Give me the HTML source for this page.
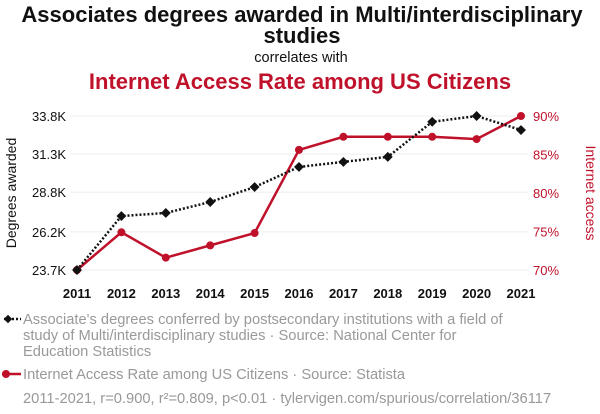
<!DOCTYPE html>
<html><head><meta charset="utf-8"><style>
body{margin:0;background:#fff;font-family:"Liberation Sans",sans-serif}
svg{display:block}
</style></head><body>
<svg id="chart" width="600" height="414" xmlns="http://www.w3.org/2000/svg" font-family="Liberation Sans, sans-serif">
<text x="302" y="22" text-anchor="middle" font-size="22" font-weight="bold" fill="#111">Associates degrees awarded in Multi/interdisciplinary</text>
<text x="302" y="43" text-anchor="middle" font-size="22" font-weight="bold" fill="#111">studies</text>
<text x="301" y="62" text-anchor="middle" font-size="14.5" fill="#111">correlates with</text>
<text x="300" y="89" text-anchor="middle" font-size="22" font-weight="bold" fill="#c0112b">Internet Access Rate among US Citizens</text>
<g id="grid"></g>
<g id="axes"></g>
<g id="series"></g>
<text transform="translate(16,193) rotate(-90)" text-anchor="middle" font-size="14" fill="#111">Degrees awarded</text>
<text transform="translate(586,193) rotate(90)" text-anchor="middle" font-size="14" fill="#c0112b">Internet access</text>
<g>
<line x1="4" y1="319" x2="21" y2="319" stroke="#111" stroke-width="2.5" stroke-dasharray="2,2"/>
<rect x="5" y="316" width="6" height="6" fill="#111" transform="rotate(45 8 319)"/>
<text font-size="14.7" fill="#999"><tspan x="23" y="324">Associate's degrees conferred by postsecondary institutions with a field of</tspan><tspan x="23" y="340">study of Multi/interdisciplinary studies · Source: National Center for</tspan><tspan x="23" y="356">Education Statistics</tspan></text>
</g>
<g>
<line x1="2" y1="374" x2="21" y2="374" stroke="#c0112b" stroke-width="2.5"/>
<circle cx="6" cy="374" r="4" fill="#c0112b"/>
<text x="23" y="379" font-size="14.7" fill="#999">Internet Access Rate among US Citizens · Source: Statista</text>
</g>
<text x="23" y="403" font-size="14.7" fill="#999">2011-2021, r=0.900, r²=0.809, p&lt;0.01 · tylervigen.com/spurious/correlation/36117</text>
</svg>
<script>
const years=[2011,2012,2013,2014,2015,2016,2017,2018,2019,2020,2021];
const degrees=[23.7,27.24,27.44,28.16,29.14,30.46,30.79,31.12,33.42,33.8,32.88];
const internet=[70,74.9,71.6,73.2,74.8,85.6,87.3,87.3,87.3,87.0,90];
const leftTicks=[23.7,26.2,28.8,31.3,33.8];
const leftLabels=["23.7K","26.2K","28.8K","31.3K","33.8K"];
const rightTicks=[70,75,80,85,90];
const NS="http://www.w3.org/2000/svg";
const x=y=>77+(y-2011)*(521-77)/10;
const yl=v=>270-(v-23.7)/(33.8-23.7)*154;
const yr=v=>270-(v-70)/20*154;
function mk(t,a,p){const e=document.createElementNS(NS,t);for(const k in a)e.setAttribute(k,a[k]);p.appendChild(e);return e;}
const grid=document.getElementById('grid'),axes=document.getElementById('axes'),ser=document.getElementById('series');
leftTicks.forEach((v,i)=>{
 const g=mk('line',{x1:70,x2:528,y1:yl(v),y2:yl(v),stroke:'#eee','stroke-width':1},grid);
 
 
 const t=mk('text',{x:66,y:yl(v)+5,'text-anchor':'end','font-size':13,fill:'#111'},axes);
 t.textContent=leftLabels[i];
 
 
});
rightTicks.forEach(v=>{
 const t=mk('text',{x:533,y:yr(v)+5,'font-size':13,fill:'#c0112b'},axes);
 t.textContent=v+'%';
 
 
});
years.forEach(y=>{
 const t=mk('text',{x:x(y),y:298,'text-anchor':'middle','font-size':13,'font-weight':'bold',fill:'#111'},axes);
 t.textContent=y;
 
 
});
const rl=mk('polyline',{points:years.map((y,i)=>x(y)+','+yr(internet[i])).join(' '),fill:'none',stroke:'#c0112b','stroke-width':2.5},ser);


const bl=mk('polyline',{points:years.map((y,i)=>x(y)+','+yl(degrees[i])).join(' '),fill:'none',stroke:'#111','stroke-width':2.5,'stroke-dasharray':'2,2'},ser);


years.forEach((y,i)=>{
 const c=mk('circle',{cx:x(y),cy:yr(internet[i]),r:4,fill:'#c0112b'},ser);
 
 
 const cx=x(y),cy=yl(degrees[i]);
 const d=mk('rect',{x:cx-3.5,y:cy-3.5,width:7,height:7,fill:'#111',transform:`rotate(45 ${cx} ${cy})`},ser);
 
 
});
</script>
</body></html>
